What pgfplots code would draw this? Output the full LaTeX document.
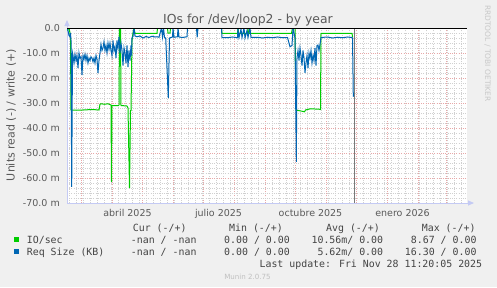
\documentclass[border=0pt]{standalone}
\usepackage{fontspec}
\setmainfont{DejaVu Sans}
\newfontfamily\monofont{DejaVu Sans Mono}
\usepackage{pgfplots}
\pgfplotsset{compat=1.18}
\usetikzlibrary{arrows.meta}
\definecolor{bg}{HTML}{F0F0F0}
\definecolor{txt}{HTML}{5A5A5A}
\definecolor{legtxt}{HTML}{444444}
\definecolor{iogreen}{HTML}{00CC00}
\definecolor{reqblue}{HTML}{0066B3}
\definecolor{axblue}{HTML}{C4CAF4}
\definecolor{mgrid}{RGB}{232,168,168}
\definecolor{ngrid}{RGB}{208,208,208}
\definecolor{nowgray}{RGB}{120,120,120}

\begin{document}
\begin{tikzpicture}[x=1bp,y=1bp]
\fill[bg] (0,0) rectangle (497,287);
\begin{axis}[
  at={(67bp,84bp)}, anchor=south west,
  scale only axis, width=400bp, height=175bp,
  xmin=44.5, xmax=444.5, ymin=-70, ymax=0,
  axis lines=left,
  axis line style={axblue, line width=0.8bp},
  x axis line style={-{Triangle[length=6bp,width=5bp]}, shorten >=-7bp},
  y axis line style={-{Triangle[length=6bp,width=5bp]}, shorten >=-8bp},
  axis background/.style={fill=white},
  xtick={59,90,120,151,181,212,243,273,304,334,365,396,424},
  xticklabels={},
  minor xtick={47,54,...,440},
  extra x ticks={105,196,288,380},
  extra x tick labels={abril 2025, julio 2025, octubre 2025, enero 2026},
  extra x tick style={grid=none},
  ytick={-70,-60,...,0},
  yticklabels={-70.0 m,-60.0 m,-50.0 m,-40.0 m,-30.0 m,-20.0 m,-10.0 m,0.0\hspace{7bp}},
  minor ytick={-68,-66,...,-2},
  grid=both,
  major grid style={mgrid, dash pattern=on 1bp off 1.2bp, line width=0.55bp},
  minor grid style={ngrid, dash pattern=on 1bp off 1.2bp, line width=0.55bp},
  major tick length=0pt, minor tick length=0pt,
  tick label style={font=\fontsize{9.5bp}{11bp}\selectfont, text=txt},
  yticklabel style={anchor=east, xshift=-7bp, inner sep=0pt},
  xticklabel style={anchor=base, yshift=-13bp, inner sep=0pt},
]
% IO/sec (read, negative)
\addplot[iogreen, line width=1bp] coordinates {
(44.5,-1) (45.5,-0.5) (46.5,0) (47.5,-2) (48,-4) (48.5,-32.8) (60,-32.8) (70,-32.6) (76.5,-32.8)
(77.5,-30.5) (78.5,-30.3) (82,-30.5) (85.5,-30.3) (88.5,-30.8) (89,-61.5) (89.5,-31) (91,-31)
(96,-31) (96.5,-30.8) (97,0) (98,0) (98.5,-31) (104.5,-31.2) (105.5,-32) (107,-64) (108,-33)
(108.5,-33) (109.5,-5) (110.5,-2) (111.5,0) (112.5,-2.2) (114.5,-2.1) (134.5,-2.1) (135,0)
(145,0) (145.5,-2) (147.5,-2) (148,0) (199,0) (199.5,-2.1) (215,-2.1) (215.5,0) (216,-2.1)
(225,-2.1) (225.5,0) (226,-2.1) (269,-2.1) (270,0) (272.5,0) (273.5,-32.8) (282,-33.5)
(283,-32.8) (288,-32.3) (297,-32.5) (298,-32.6) (298.5,-2.1) (329.5,-2.1) (330,-3.5) (330.5,-3.5)
};
% Req Size (KB)
\addplot[reqblue, line width=1bp] coordinates {
(44.5,0) (45.5,-1) (46.5,-3) (47.5,-3.5) (48,-2) (48.5,-5) (49.2,-63.5) (50,-10) (50.5,-11)
(51.5,-14) (52.5,-10.5) (53.5,-13) (54.5,-11) (55.5,-16) (56.5,-10) (57.5,-12) (58.5,-11.5)
(59.5,-18.8) (60.5,-11) (61.5,-12.5) (62.5,-10.5) (63.5,-13) (64.5,-11) (65.5,-14) (66.5,-12)
(67.5,-13) (68.5,-11.5) (69.5,-12) (70.5,-13.5) (71.5,-12) (72.5,-14) (73.5,-11) (74.5,-12.5)
(75.5,-18) (76.5,-13) (77.5,-10) (78.5,-6.5) (79.5,-9) (80.5,-8) (81.5,-5.5) (82.5,-9) (83.5,-7)
(84.5,-10) (85.5,-6) (86.5,-8.5) (87.5,-6) (88.5,-9) (89.5,-11) (90.5,-5) (91.5,-9) (92.5,-7.5)
(93.5,-12) (94.5,-5) (95.5,-8) (96.5,-3.5) (97.5,-10) (98.5,-6) (99.5,-9) (100.5,-15) (101.5,-8)
(102.5,-10) (103.5,-14) (104.5,-7) (105.5,-15.6) (106.5,-9) (107.5,-13) (108.5,-7) (109,-11)
(109.5,-4) (110.5,-3.3) (111.5,0) (112.5,-3.2) (114.5,-3.5) (117.5,-3.2) (120.5,-4) (123.5,-3.4)
(126.5,-3.8) (129.5,-3.3) (132.5,-3.6) (134.5,-3.5) (136.5,-3.7) (139,0) (140,-3.6) (141,0)
(142,-3.8) (143.2,-4) (145.8,-28) (147,-4) (150,-3.6) (150.5,0) (151.5,-3.7) (155,-3.5)
(155.5,0) (156.5,-3.6) (160,-3.8) (164.5,-3.5) (165,0) (174,0) (174.7,-3.7) (175.5,0) (199,0)
(199.5,-3.8) (205,-3.9) (210,-3.6) (215,-3.9) (215.5,0) (216.5,-3.8) (218.5,-0.5) (219.5,-3.8)
(221.5,0) (222.5,-4) (224.5,-1) (225.5,-3.8) (227.5,0) (228.5,-3.8) (235,-3.7) (240,-4)
(245,-3.7) (250,-3.9) (255,-3.6) (260,-3.9) (265,-3.8) (267.5,-7.5) (269.5,-7) (270.5,0)
(272.5,-4) (273.8,-53.5) (274.5,-12) (275.5,-9) (276.5,-13) (277.5,-8) (278.5,-11) (279.5,-15)
(280.5,-9) (281.5,-12) (282.5,-17.9) (283.5,-14) (284.5,-11) (285.5,-16) (286.5,-10) (287.5,-12)
(288.5,-9) (289.5,-14) (290.5,-11) (291.5,-13) (292.5,-8) (293.5,-15) (294.5,-7) (295.5,-6.8)
(296.5,-9) (297.5,-6.5) (298.5,-3.8) (305,-3.6) (310,-4) (315,-3.7) (320,-3.9) (325,-3.6)
(329.5,-3.8) (330,-4) (330.8,-27.5)
};
% last data / now marker
\addplot[nowgray, line width=0.8bp] coordinates {(331.8,0) (331.8,-70)};
% zero line
\addplot[black, line width=1.4bp] coordinates {(44.5,0) (444.5,0)};
\end{axis}
% titles
\node[font=\fontsize{12.4bp}{14bp}\selectfont, text=txt, anchor=base, inner sep=0pt] at (248,263.3) {IOs for /dev/loop2 - by year};
\node[font=\fontsize{11bp}{13bp}\selectfont, text=txt, rotate=90, anchor=base, inner sep=0pt] at (14.7,172) {Units read (-) / write (+)};
\node[font=\fontsize{7.5bp}{9bp}\selectfont, text={rgb,255:red,200;green,200;blue,200}, rotate=-90, anchor=base, inner sep=0pt] at (485,233.5) {RRDTOOL / TOBI OETIKER};
% legend
\begin{scope}[every node/.style={font=\monofont\fontsize{9.9bp}{12bp}\selectfont, text=legtxt, inner sep=0pt}]
\node[anchor=base east] at (186.7,55.4) {Cur (-/+)};
\node[anchor=base east] at (283,55.4) {Min (-/+)};
\node[anchor=base east] at (380,55.4) {Avg (-/+)};
\node[anchor=base east] at (475.7,55.4) {Max (-/+)};
\fill[iogreen] (14,44.7) rectangle (19.3,49.7);
\node[anchor=base west] at (26.7,43.4) {IO/sec};
\node[anchor=base east] at (196.7,43.4) {-nan / -nan};
\node[anchor=base east] at (290,43.4) {0.00 / 0.00};
\node[anchor=base east] at (383.3,43.4) {10.56m/ 0.00};
\node[anchor=base east] at (476.7,43.4) {8.67 / 0.00};
\fill[reqblue] (14,32.7) rectangle (19.3,37.7);
\node[anchor=base west] at (26.7,31.4) {Req Size (KB)};
\node[anchor=base east] at (196.7,31.4) {-nan / -nan};
\node[anchor=base east] at (290,31.4) {0.00 / 0.00};
\node[anchor=base east] at (383.3,31.4) {5.62m/ 0.00};
\node[anchor=base east] at (476.7,31.4) {16.30 / 0.00};
\node[anchor=base east] at (482.3,19.7) {Last update: Fri Nov 28 11:20:05 2025};
\end{scope}
\node[font=\fontsize{7.1bp}{9bp}\selectfont, text={rgb,255:red,192;green,192;blue,192}, anchor=base, inner sep=0pt] at (247.5,7.7) {Munin 2.0.75};
\end{tikzpicture}
\end{document}
